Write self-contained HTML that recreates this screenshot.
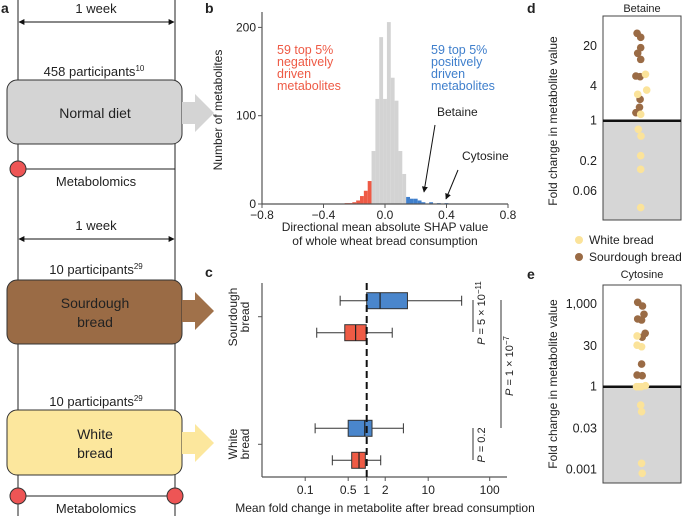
<!DOCTYPE html>
<html><head><meta charset="utf-8"><style>
body{margin:0;background:#fff}
svg{display:block;font-family:"Liberation Sans",Arial,sans-serif}
text{fill:#222}
</style></head><body>
<svg id="fig" width="685" height="516" viewBox="0 0 685 516">
<defs>
<marker id="ah" viewBox="0 0 10 10" refX="9" refY="5" markerWidth="6" markerHeight="6" orient="auto-start-reverse"><path d="M0,0L10,5L0,10z" fill="#111"/></marker>
</defs>
<!-- Panel a -->
<g font-size="13">
<text x="1" y="13" font-weight="bold" font-size="14">a</text>
<line x1="18" y1="0" x2="18" y2="516" stroke="#222" stroke-width="1"/>
<line x1="175" y1="0" x2="175" y2="516" stroke="#222" stroke-width="1"/>
<text x="96" y="13" text-anchor="middle">1 week</text>
<line x1="19" y1="22" x2="174" y2="22" stroke="#111" marker-start="url(#ah)" marker-end="url(#ah)"/>
<text x="94" y="76" text-anchor="middle">458 participants<tspan font-size="8" dy="-5">10</tspan></text>
<rect x="7" y="80" width="175" height="64" rx="10" fill="#d4d4d4" stroke="#333"/>
<text x="95" y="118" text-anchor="middle" font-size="14">Normal diet</text>
<path d="M182,102H195V94L214,113L195,132V124H182z" fill="#d4d4d4"/>
<line x1="18" y1="169" x2="175" y2="169" stroke="#222"/>
<circle cx="18" cy="169" r="8" fill="#ee5555" stroke="#333"/>
<text x="96" y="186" text-anchor="middle">Metabolomics</text>
<text x="96" y="230" text-anchor="middle">1 week</text>
<line x1="19" y1="239" x2="174" y2="239" stroke="#111" marker-start="url(#ah)" marker-end="url(#ah)"/>
<text x="96" y="274" text-anchor="middle">10 participants<tspan font-size="8" dy="-5">29</tspan></text>
<rect x="7" y="280" width="175" height="64" rx="10" fill="#9a6b45" stroke="#333"/>
<text x="95" y="308" text-anchor="middle" font-size="14">Sourdough</text>
<text x="95" y="327" text-anchor="middle" font-size="14">bread</text>
<path d="M182,300H195V292L214,311L195,330V322H182z" fill="#a0714a"/>
<text x="96" y="406" text-anchor="middle">10 participants<tspan font-size="8" dy="-5">29</tspan></text>
<rect x="7" y="410" width="175" height="65" rx="10" fill="#fce79d" stroke="#333"/>
<text x="95" y="439" text-anchor="middle" font-size="14">White</text>
<text x="95" y="458" text-anchor="middle" font-size="14">bread</text>
<path d="M182,432H195V424L214,443L195,462V454H182z" fill="#fce79d"/>
<line x1="18" y1="496" x2="175" y2="496" stroke="#222"/>
<circle cx="18" cy="496" r="8" fill="#ee5555" stroke="#333"/>
<circle cx="175" cy="496" r="8" fill="#ee5555" stroke="#333"/>
<text x="96" y="513" text-anchor="middle">Metabolomics</text>
</g>
<!-- Panel b -->
<g id="pb" font-size="11">
<text x="205" y="13" font-weight="bold" font-size="14">b</text>
<text transform="translate(222,110) rotate(-90)" text-anchor="middle" font-size="12">Number of metabolites</text>
<text x="385" y="231" text-anchor="middle" font-size="12">Directional mean absolute SHAP value</text>
<text x="385" y="245" text-anchor="middle" font-size="12">of whole wheat bread consumption</text>
<g font-size="12.5"><text x="277" y="54" style="fill:#ee5a45">59 top 5%</text><text x="277" y="66" style="fill:#ee5a45">negatively</text><text x="277" y="78" style="fill:#ee5a45">driven</text><text x="277" y="90" style="fill:#ee5a45">metabolites</text></g>
<g font-size="12.5"><text x="431" y="54" style="fill:#3f7fcc">59 top 5%</text><text x="431" y="66" style="fill:#3f7fcc">positively</text><text x="431" y="78" style="fill:#3f7fcc">driven</text><text x="431" y="90" style="fill:#3f7fcc">metabolites</text></g>
<text x="437" y="116" font-size="12">Betaine</text>
<line x1="435" y1="125" x2="424" y2="192" stroke="#111" marker-end="url(#ah)"/>
<text x="462" y="160" font-size="12">Cytosine</text>
<line x1="458" y1="170" x2="446" y2="199" stroke="#111" marker-end="url(#ah)"/>
</g>
<!-- Panel c -->
<g id="pc" font-size="12">
<text x="205" y="277" font-weight="bold" font-size="14">c</text>
<text transform="translate(237,317) rotate(-90)" text-anchor="middle">Sourdough</text>
<text transform="translate(249,317) rotate(-90)" text-anchor="middle">bread</text>
<text transform="translate(237,444) rotate(-90)" text-anchor="middle">White</text>
<text transform="translate(249,444) rotate(-90)" text-anchor="middle">bread</text>
<text x="385" y="512" text-anchor="middle">Mean fold change in metabolite after bread consumption</text>
<line x1="473" y1="300" x2="473" y2="332" stroke="#333"/>
<text transform="translate(485,313) rotate(-90)" text-anchor="middle" font-size="11"><tspan font-style="italic">P</tspan> = 5 × 10<tspan font-size="8" dy="-4">−11</tspan></text>
<line x1="501" y1="300" x2="501" y2="428" stroke="#333"/>
<text transform="translate(513,366) rotate(-90)" text-anchor="middle" font-size="11"><tspan font-style="italic">P</tspan> = 1 × 10<tspan font-size="8" dy="-4">−7</tspan></text>
<line x1="473" y1="428" x2="473" y2="460" stroke="#333"/>
<text transform="translate(485,445) rotate(-90)" text-anchor="middle" font-size="11"><tspan font-style="italic">P</tspan> = 0.2</text>
</g>
<!-- Panels d, e -->
<g id="pd" font-size="11">
<text x="527" y="13" font-weight="bold" font-size="14">d</text>
<text x="642" y="12" text-anchor="middle">Betaine</text>
<text transform="translate(557,121) rotate(-90)" text-anchor="middle" font-size="12">Fold change in metabolite value</text>
<circle cx="579" cy="240" r="4" fill="#fbe39a"/>
<text x="589" y="244" font-size="12">White bread</text>
<circle cx="579" cy="257" r="4" fill="#9a6b45"/>
<text x="589" y="261" font-size="12">Sourdough bread</text>
</g>
<g id="pe" font-size="11">
<text x="527" y="279" font-weight="bold" font-size="14">e</text>
<text x="642" y="278" text-anchor="middle">Cytosine</text>
<text transform="translate(557,384) rotate(-90)" text-anchor="middle" font-size="12">Fold change in metabolite value</text>
</g>
</svg>
<script>
const NS='http://www.w3.org/2000/svg';
// ---- Panel b data ----
const binLeft=[-0.2625,-0.2375,-0.2125,-0.1875,-0.1625,-0.1375,-0.1125,-0.0875,-0.0625,-0.0375,-0.0125,0.0125,0.0375,0.0625,0.0875,0.1125,0.1375,0.1625,0.1875,0.2125,0.2375,0.2875,0.3375,0.3875];
const binCount=[1,1,2,4,9,15,26,60,119,189,119,206,143,117,60,34,8,6,6,4,2,2,1,1];
const binGroup=['n','n','n','n','n','n','n','g','g','g','g','g','g','g','g','g','p','p','p','p','p','p','p','p'];
const bXTicks=[-0.8,-0.4,0,0.4,0.8];
const bXTickLabels=['−0.8','−0.4','0.0','0.4','0.8'];
const bYTicks=[0,100,200];
const binWidth=0.025;
// ---- Panel c data ----
const cCategories=['Sourdough bread','White bread'];
const cSeries=['positive','negative'];
const cMin=[0.37,0.154,0.145,0.276];
const cQ1=[1.0,0.44,0.50,0.57];
const cMed=[1.65,0.66,0.93,0.75];
const cQ3=[4.6,0.98,1.22,0.95];
const cMax=[35,2.6,3.95,1.69];
const cBoxCat=[0,0,1,1];
const cBoxSeries=[0,1,0,1];
const cXTicks=[0.1,0.5,1,2,10,100];
const cXTickLabels=['0.1','0.5','1','2','10','100'];
// ---- Panel d data ----
const dValues=[32.9,28,18.5,14.8,11.6,5.97,5.8,2.35,1.71,1.38,6.4,2.87,3.41,1.29,0.71,0.54,0.247,0.143,0.031];
const dGroup=['s','s','s','s','s','s','s','s','s','s','w','w','w','w','w','w','w','w','w'];
const dJitter=[-0.6,0,0,-0.5,0,-0.8,-0.1,-0.1,-0.2,-0.8,0.8,-0.5,1.0,0,-0.4,0.05,0,0,0];
const dTicks=[20,4,1,0.2,0.06];
const dTickLabels=['20','4','1','0.2','0.06'];
// ---- Panel e data ----
const eValues=[1143,839,284,420,261,86,62,6.6,2.65,2.5,69,28,32,1,1,1.09,1,0.217,0.124,0.00168,0.00073];
const eGroup=['s','s','s','s','s','s','s','s','s','s','w','w','w','w','w','w','w','w','w','w','w'];
const eJitter=[-0.5,0.3,-0.5,0.55,0.15,0.75,0.25,0.15,-0.6,0.25,-0.6,0.15,-0.6,-0.7,0.1,0.8,-0.3,0,0.15,0.15,0.25];
const eTicks=[1000,30,1,0.03,0.001];
const eTickLabels=['1,000','30','1','0.03','0.001'];

function mk(tag,attrs,parent){const e=document.createElementNS(NS,tag);for(const k in attrs)e.setAttribute(k,attrs[k]);parent.appendChild(e);return e;}

// Panel b
const pb=document.getElementById('pb');
const bx=v=>385+v*153.75, by=c=>204-c*0.883;
const colB={n:'#ee5a45',g:'#d3d3d3',p:'#3f7fcc'};
binLeft.forEach((l,i)=>{
 const r=mk('rect',{x:bx(l),y:by(binCount[i]),width:bx(l+binWidth)-bx(l),height:204-by(binCount[i]),fill:colB[binGroup[i]]},pb);
 
 
});
let ax=mk('line',{x1:262,y1:12,x2:262,y2:204,stroke:'#555','stroke-width':1.2},pb);


ax=mk('line',{x1:262,y1:204,x2:508,y2:204,stroke:'#555','stroke-width':1.2},pb);


bXTicks.forEach((v,i)=>{
 mk('line',{x1:bx(v),y1:204,x2:bx(v),y2:208,stroke:'#555'},pb);
 const t=mk('text',{x:bx(v),y:219,'text-anchor':'middle','font-size':12},pb);t.textContent=bXTickLabels[i];
 
 
});
bYTicks.forEach(v=>{
 mk('line',{x1:258,y1:by(v),x2:262,y2:by(v),stroke:'#555'},pb);
 const t=mk('text',{x:256,y:by(v)+4,'text-anchor':'end','font-size':12},pb);t.textContent=v;
 
 
});

// Panel c
const pc=document.getElementById('pc');
const cx=v=>366.7+Math.log10(v)*61.5;
const catY=[316.7,444.3];
const serOff=[-16,16];
const colC=['#4a86cc','#ef5b45'];
ax=mk('line',{x1:262,y1:283,x2:262,y2:477,stroke:'#555','stroke-width':1.2},pc);


ax=mk('line',{x1:262,y1:477,x2:507,y2:477,stroke:'#555','stroke-width':1.2},pc);


catY.forEach(y=>mk('line',{x1:258,y1:y,x2:262,y2:y,stroke:'#555'},pc));
cXTicks.forEach((v,i)=>{
 mk('line',{x1:cx(v),y1:477,x2:cx(v),y2:481,stroke:'#555'},pc);
 const t=mk('text',{x:cx(v),y:494,'text-anchor':'middle'},pc);t.textContent=cXTickLabels[i];
 
 
});
cMin.forEach((_,i)=>{
 const yc=catY[cBoxCat[i]]+serOff[cBoxSeries[i]];
 const g=mk('g',{},pc);
 
 
 mk('line',{x1:cx(cMin[i]),y1:yc,x2:cx(cMax[i]),y2:yc,stroke:'#333'},g);
 mk('line',{x1:cx(cMin[i]),y1:yc-5,x2:cx(cMin[i]),y2:yc+5,stroke:'#333'},g);
 mk('line',{x1:cx(cMax[i]),y1:yc-5,x2:cx(cMax[i]),y2:yc+5,stroke:'#333'},g);
 mk('rect',{x:cx(cQ1[i]),y:yc-8,width:cx(cQ3[i])-cx(cQ1[i]),height:16,fill:colC[cBoxSeries[i]],stroke:'#333'},g);
 mk('line',{x1:cx(cMed[i]),y1:yc-8,x2:cx(cMed[i]),y2:yc+8,stroke:'#222','stroke-width':1.2},g);
});
const ref=mk('line',{x1:cx(1),y1:283,x2:cx(1),y2:477,stroke:'#111','stroke-width':2,'stroke-dasharray':'7,4'},pc);



// Beeswarm panels
function swarm(id,top,bottom,oneY,perDec,vals,grp,jit,ticks,labels){
 const p=document.getElementById(id);
 const y=v=>oneY-Math.log10(v)*perDec;
 mk('rect',{x:603,y:oneY,width:78,height:bottom-oneY,fill:'#d6d6d6'},p);
 const fr=mk('rect',{x:603,y:top,width:78,height:bottom-top,fill:'none',stroke:'#444','stroke-width':1},p);
 
 
 const bl=mk('line',{x1:603,y1:oneY,x2:681,y2:oneY,stroke:'#111','stroke-width':2.5},p);
 
 
 ticks.forEach((v,i)=>{
  const t=mk('text',{x:597,y:y(v)+4,'text-anchor':'end','font-size':12.5},p);t.textContent=labels[i];
  
  
 });
 vals.forEach((v,i)=>{
  const c=mk('circle',{cx:640.7+jit[i]*6,cy:y(v),r:3.8,fill:grp[i]=='s'?'#9a6b45':'#fbe39a'},p);
  
  
 });
}
swarm('pd',16,220,120.7,57.6,dValues,dGroup,dJitter,dTicks,dTickLabels);
swarm('pe',285,483,386.7,27.6,eValues,eGroup,eJitter,eTicks,eTickLabels);
</script>
</body></html>
